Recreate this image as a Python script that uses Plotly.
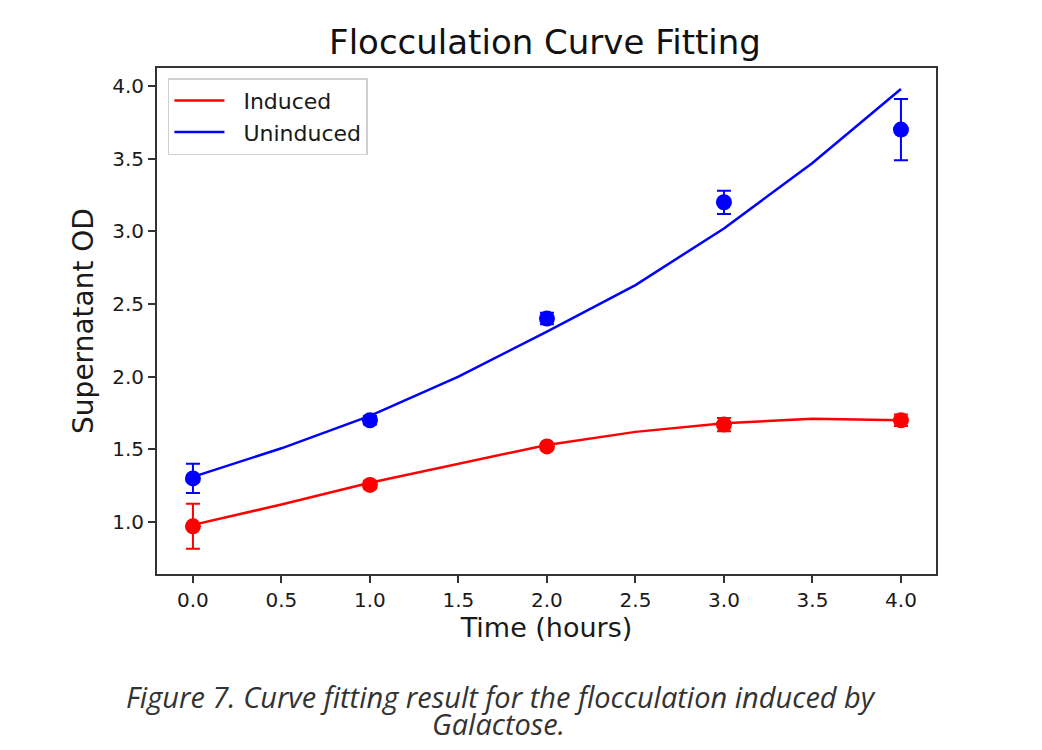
import plotly.graph_objects as go

# Measured data
time_points = [0, 1, 2, 3, 4]
induced_od = [0.97, 1.255, 1.52, 1.67, 1.70]
induced_err = [0.155, 0.025, 0.015, 0.045, 0.04]
uninduced_od = [1.30, 1.70, 2.40, 3.20, 3.70]
uninduced_err = [0.10, 0.03, 0.04, 0.08, 0.21]

# Fitted curves
fit_time = [0, 0.5, 1.0, 1.5, 2.0, 2.5, 3.0, 3.5, 4.0]
induced_fit = [0.98, 1.12, 1.27, 1.40, 1.53, 1.62, 1.68, 1.71, 1.70]
uninduced_fit = [1.31, 1.507, 1.73, 2.0, 2.31, 2.63, 3.02, 3.47, 3.98]

x_ticks = [0.0, 0.5, 1.0, 1.5, 2.0, 2.5, 3.0, 3.5, 4.0]
y_ticks = [1.0, 1.5, 2.0, 2.5, 3.0, 3.5, 4.0]

RED = "#ff0000"
BLUE = "#0000ff"
TXT = "#1a1a1a"
PAD = "\u00a0\u00a0"

fig = go.Figure()
fig.add_trace(go.Scatter(x=fit_time, y=induced_fit, mode="lines", name=PAD + "Induced",
                         line=dict(color=RED, width=2.5)))
fig.add_trace(go.Scatter(x=fit_time, y=uninduced_fit, mode="lines", name=PAD + "Uninduced",
                         line=dict(color=BLUE, width=2.5)))
fig.add_trace(go.Scatter(x=time_points, y=induced_od, mode="markers", showlegend=False,
                         marker=dict(color=RED, size=16),
                         error_y=dict(type="data", array=induced_err, color=RED,
                                      thickness=2, width=7)))
fig.add_trace(go.Scatter(x=time_points, y=uninduced_od, mode="markers", showlegend=False,
                         marker=dict(color=BLUE, size=16),
                         error_y=dict(type="data", array=uninduced_err, color=BLUE,
                                      thickness=2, width=7)))

axis_common = dict(showline=True, linecolor="#333", linewidth=2, mirror=True,
                   ticks="outside", ticklen=7, tickwidth=1.5, tickcolor="#333",
                   showgrid=False, zeroline=False,
                   tickfont=dict(family="DejaVu Sans", size=20, color=TXT))

fig.update_xaxes(range=[-0.203, 4.198], tickvals=x_ticks,
                 ticktext=[f"{v:.1f}" for v in x_ticks],
                 title=dict(text="Time (hours)", font=dict(family="DejaVu Sans", size=27, color=TXT),
                            standoff=6),
                 **axis_common)
fig.update_yaxes(range=[0.642, 4.124], tickvals=y_ticks,
                 ticktext=[f"{v:.1f}" for v in y_ticks],
                 title=dict(text="Supernatant OD", font=dict(family="DejaVu Sans", size=28, color=TXT),
                            standoff=10),
                 **axis_common)

fig.update_layout(
    width=1030, height=738,
    paper_bgcolor="white", plot_bgcolor="white",
    margin=dict(l=149, r=102, t=60, b=172),
    title=dict(text="Flocculation Curve Fitting", x=537 / 1030, xanchor="center",
               y=1 - 34 / 738, yanchor="middle",
               font=dict(family="DejaVu Sans", size=34, color="#111")),
    legend=dict(x=0.014, y=0.980, xanchor="left", yanchor="top",
                bgcolor="white", bordercolor="#d0d0d0", borderwidth=1.5,
                font=dict(family="DejaVu Sans", size=22, color=TXT),
                itemwidth=50),
    showlegend=True,
)

caption_font = dict(family="Open Sans", size=29, color="#333")
fig.add_annotation(text="<i>Figure 7. Curve fitting result for the flocculation induced by</i>",
                   xref="paper", yref="paper", x=0.4416, y=-0.242,
                   xanchor="center", yanchor="middle", showarrow=False, font=caption_font)
fig.add_annotation(text="<i>Galactose.</i>",
                   xref="paper", yref="paper", x=0.439, y=-0.295,
                   xanchor="center", yanchor="middle", showarrow=False, font=caption_font)

fig.write_html("out.html")
